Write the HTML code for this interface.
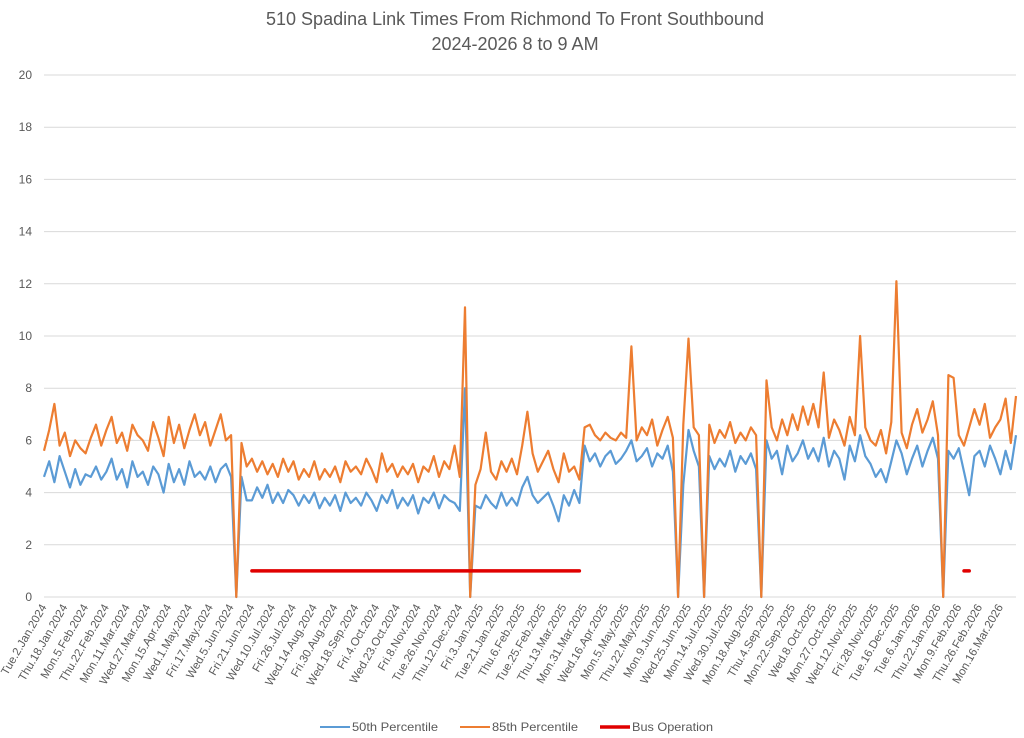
<!DOCTYPE html>
<html><head><meta charset="utf-8"><style>
body{margin:0;background:#fff;}
svg{display:block;font-family:"Liberation Sans",sans-serif;}
</style></head><body>
<svg id="chart" width="1024" height="738" viewBox="0 0 1024 738" xmlns="http://www.w3.org/2000/svg">
<rect width="1024" height="738" fill="#fff"/>
<text x="515" y="25" text-anchor="middle" font-size="18" fill="#595959">510 Spadina Link Times From Richmond To Front Southbound</text>
<text x="515" y="50" text-anchor="middle" font-size="18" fill="#595959">2024-2026 8 to 9 AM</text>
<g id="grid"></g><g id="yticks"></g><g id="xticks"></g><g id="series"></g>
<g>
<line x1="320" y1="727" x2="350" y2="727" stroke="#5b9bd5" stroke-width="2"/>
<text x="352" y="731" font-size="12" fill="#595959" textLength="86" lengthAdjust="spacingAndGlyphs">50th Percentile</text>
<line x1="460" y1="727" x2="490" y2="727" stroke="#ed7d31" stroke-width="2"/>
<text x="492" y="731" font-size="12" fill="#595959" textLength="86" lengthAdjust="spacingAndGlyphs">85th Percentile</text>
<line x1="600" y1="727" x2="630" y2="727" stroke="#e00000" stroke-width="3.5"/>
<text x="632" y="731" font-size="12" fill="#595959" textLength="81" lengthAdjust="spacingAndGlyphs">Bus Operation</text>
</g>
</svg>
<script>
const yTicks=[0,2,4,6,8,10,12,14,16,18,20];
const xLabels=["Tue.2.Jan.2024","Thu.18.Jan.2024","Mon.5.Feb.2024","Thu.22.Feb.2024","Mon.11.Mar.2024","Wed.27.Mar.2024","Mon.15.Apr.2024","Wed.1.May.2024","Fri.17.May.2024","Wed.5.Jun.2024","Fri.21.Jun.2024","Wed.10.Jul.2024","Fri.26.Jul.2024","Wed.14.Aug.2024","Fri.30.Aug.2024","Wed.18.Sep.2024","Fri.4.Oct.2024","Wed.23.Oct.2024","Fri.8.Nov.2024","Tue.26.Nov.2024","Thu.12.Dec.2024","Fri.3.Jan.2025","Tue.21.Jan.2025","Thu.6.Feb.2025","Tue.25.Feb.2025","Thu.13.Mar.2025","Mon.31.Mar.2025","Wed.16.Apr.2025","Mon.5.May.2025","Thu.22.May.2025","Mon.9.Jun.2025","Wed.25.Jun.2025","Mon.14.Jul.2025","Wed.30.Jul.2025","Mon.18.Aug.2025","Thu.4.Sep.2025","Mon.22.Sep.2025","Wed.8.Oct.2025","Mon.27.Oct.2025","Wed.12.Nov.2025","Fri.28.Nov.2025","Tue.16.Dec.2025","Tue.6.Jan.2026","Thu.22.Jan.2026","Mon.9.Feb.2026","Thu.26.Feb.2026","Mon.16.Mar.2026"];
const labelEvery=4;
const p50=[4.6,5.2,4.4,5.4,4.8,4.2,4.9,4.3,4.7,4.6,
5.0,4.5,4.8,5.3,4.5,4.9,4.2,5.2,4.6,4.8,
4.3,5.0,4.7,4.0,5.1,4.4,4.9,4.3,5.2,4.6,
4.8,4.5,5.0,4.4,4.9,5.1,4.6,0,4.6,3.7,
3.7,4.2,3.8,4.3,3.6,4.0,3.6,4.1,3.9,3.5,
3.9,3.6,4.0,3.4,3.8,3.5,3.9,3.3,4.0,3.6,
3.8,3.5,4.0,3.7,3.3,3.9,3.6,4.1,3.4,3.8,
3.5,3.9,3.2,3.8,3.6,4.0,3.4,3.9,3.7,3.6,
3.3,8.0,0,3.5,3.4,3.9,3.6,3.4,4.0,3.5,
3.8,3.5,4.2,4.6,3.9,3.6,3.8,4.0,3.5,2.9,
3.9,3.5,4.1,3.6,5.8,5.2,5.5,5.0,5.4,5.6,
5.1,5.3,5.6,6.0,5.2,5.4,5.7,5.0,5.5,5.3,
5.8,4.8,0,4.3,6.4,5.6,5.0,0,5.4,4.9,
5.3,5.0,5.6,4.8,5.4,5.1,5.5,4.9,0,6.0,
5.3,5.6,4.7,5.8,5.2,5.5,6.0,5.3,5.7,5.2,
6.1,5.0,5.6,5.3,4.5,5.8,5.2,6.2,5.4,5.1,
4.6,4.9,4.4,5.2,6.0,5.5,4.7,5.3,5.8,5.0,
5.6,6.1,5.3,0,5.6,5.3,5.7,4.8,3.9,5.4,
5.6,5.0,5.8,5.3,4.7,5.6,4.9,6.2];
const p85=[5.6,6.4,7.4,5.8,6.3,5.4,6.0,5.7,5.5,6.1,
6.6,5.8,6.4,6.9,5.9,6.3,5.6,6.6,6.2,6.0,
5.6,6.7,6.1,5.4,6.9,5.9,6.6,5.7,6.4,7.0,
6.2,6.7,5.8,6.4,7.0,6.0,6.2,0,5.9,5.0,
5.3,4.8,5.2,4.7,5.1,4.6,5.3,4.8,5.2,4.5,
4.9,4.6,5.2,4.5,4.9,4.6,5.0,4.4,5.2,4.8,
5.0,4.7,5.3,4.9,4.4,5.5,4.8,5.1,4.6,5.0,
4.7,5.1,4.4,5.0,4.8,5.4,4.6,5.2,4.9,5.8,
4.6,11.1,0,4.3,4.9,6.3,4.8,4.5,5.2,4.8,
5.3,4.7,5.8,7.1,5.5,4.8,5.2,5.6,4.9,4.4,
5.5,4.8,5.0,4.5,6.5,6.6,6.2,6.0,6.3,6.1,
6.0,6.3,6.1,9.6,6.0,6.5,6.2,6.8,5.8,6.4,
6.9,6.1,0,6.6,9.9,6.5,6.2,0,6.6,5.9,
6.4,6.1,6.7,5.9,6.3,6.0,6.5,6.2,0,8.3,
6.5,6.0,6.8,6.2,7.0,6.4,7.3,6.6,7.4,6.5,
8.6,6.1,6.8,6.4,5.8,6.9,6.2,10.0,6.5,6.0,
5.8,6.4,5.5,6.7,12.1,6.3,5.7,6.6,7.2,6.3,
6.8,7.5,6.2,0,8.5,8.4,6.2,5.8,6.5,7.2,
6.6,7.4,6.1,6.5,6.8,7.6,5.9,7.7];
const busStart=[40,177];
const busEnd=[103,178];
const busValue=[1,1];

const NS="http://www.w3.org/2000/svg";
const X0=44,X1=1016,Y0=597,Y1=75;
const n=p50.length;
const xs=i=>X0+(X1-X0)*i/(n-1);
const ys=v=>Y0-(Y0-Y1)*v/20;
function mk(tag,attrs,parent){const e=document.createElementNS(NS,tag);for(const k in attrs)e.setAttribute(k,attrs[k]);parent.appendChild(e);return e;}
const grid=document.getElementById('grid'),yt=document.getElementById('yticks'),xt=document.getElementById('xticks'),ser=document.getElementById('series');
yTicks.forEach(v=>{
 const l=mk('line',{x1:X0,x2:X1,y1:ys(v),y2:ys(v),stroke:'#d9d9d9','stroke-width':1},grid);
 
 
 const t=mk('text',{x:32,y:ys(v)+4,'text-anchor':'end','font-size':12,fill:'#595959'},yt);
 
 
 t.textContent=v;
});
xLabels.forEach((s,k)=>{
 const x=xs(k*labelEvery)+3,y=607;
 const t=mk('text',{x:x,y:y,'text-anchor':'end','font-size':11.5,fill:'#595959',transform:`rotate(-60 ${x} ${y})`},xt);
 
 
 t.textContent=s;
});
function line(arr,color,name){
 const d=arr.map((v,i)=>(i?'L':'M')+xs(i).toFixed(1)+' '+ys(v).toFixed(1)).join(' ');
 const p=mk('path',{d:d,fill:'none',stroke:color,'stroke-width':2.2,'stroke-linejoin':'round'},ser);
 
 
}
line(p50,'#5b9bd5','series-50th-percentile');
line(p85,'#ed7d31','series-85th-percentile');
busStart.forEach((s,k)=>{
 const l=mk('line',{x1:xs(s),x2:xs(busEnd[k]),y1:ys(busValue[k]),y2:ys(busValue[k]),stroke:'#e00000','stroke-width':3.5,'stroke-linecap':'round'},ser);
 
 
});
</script>
</body></html>
